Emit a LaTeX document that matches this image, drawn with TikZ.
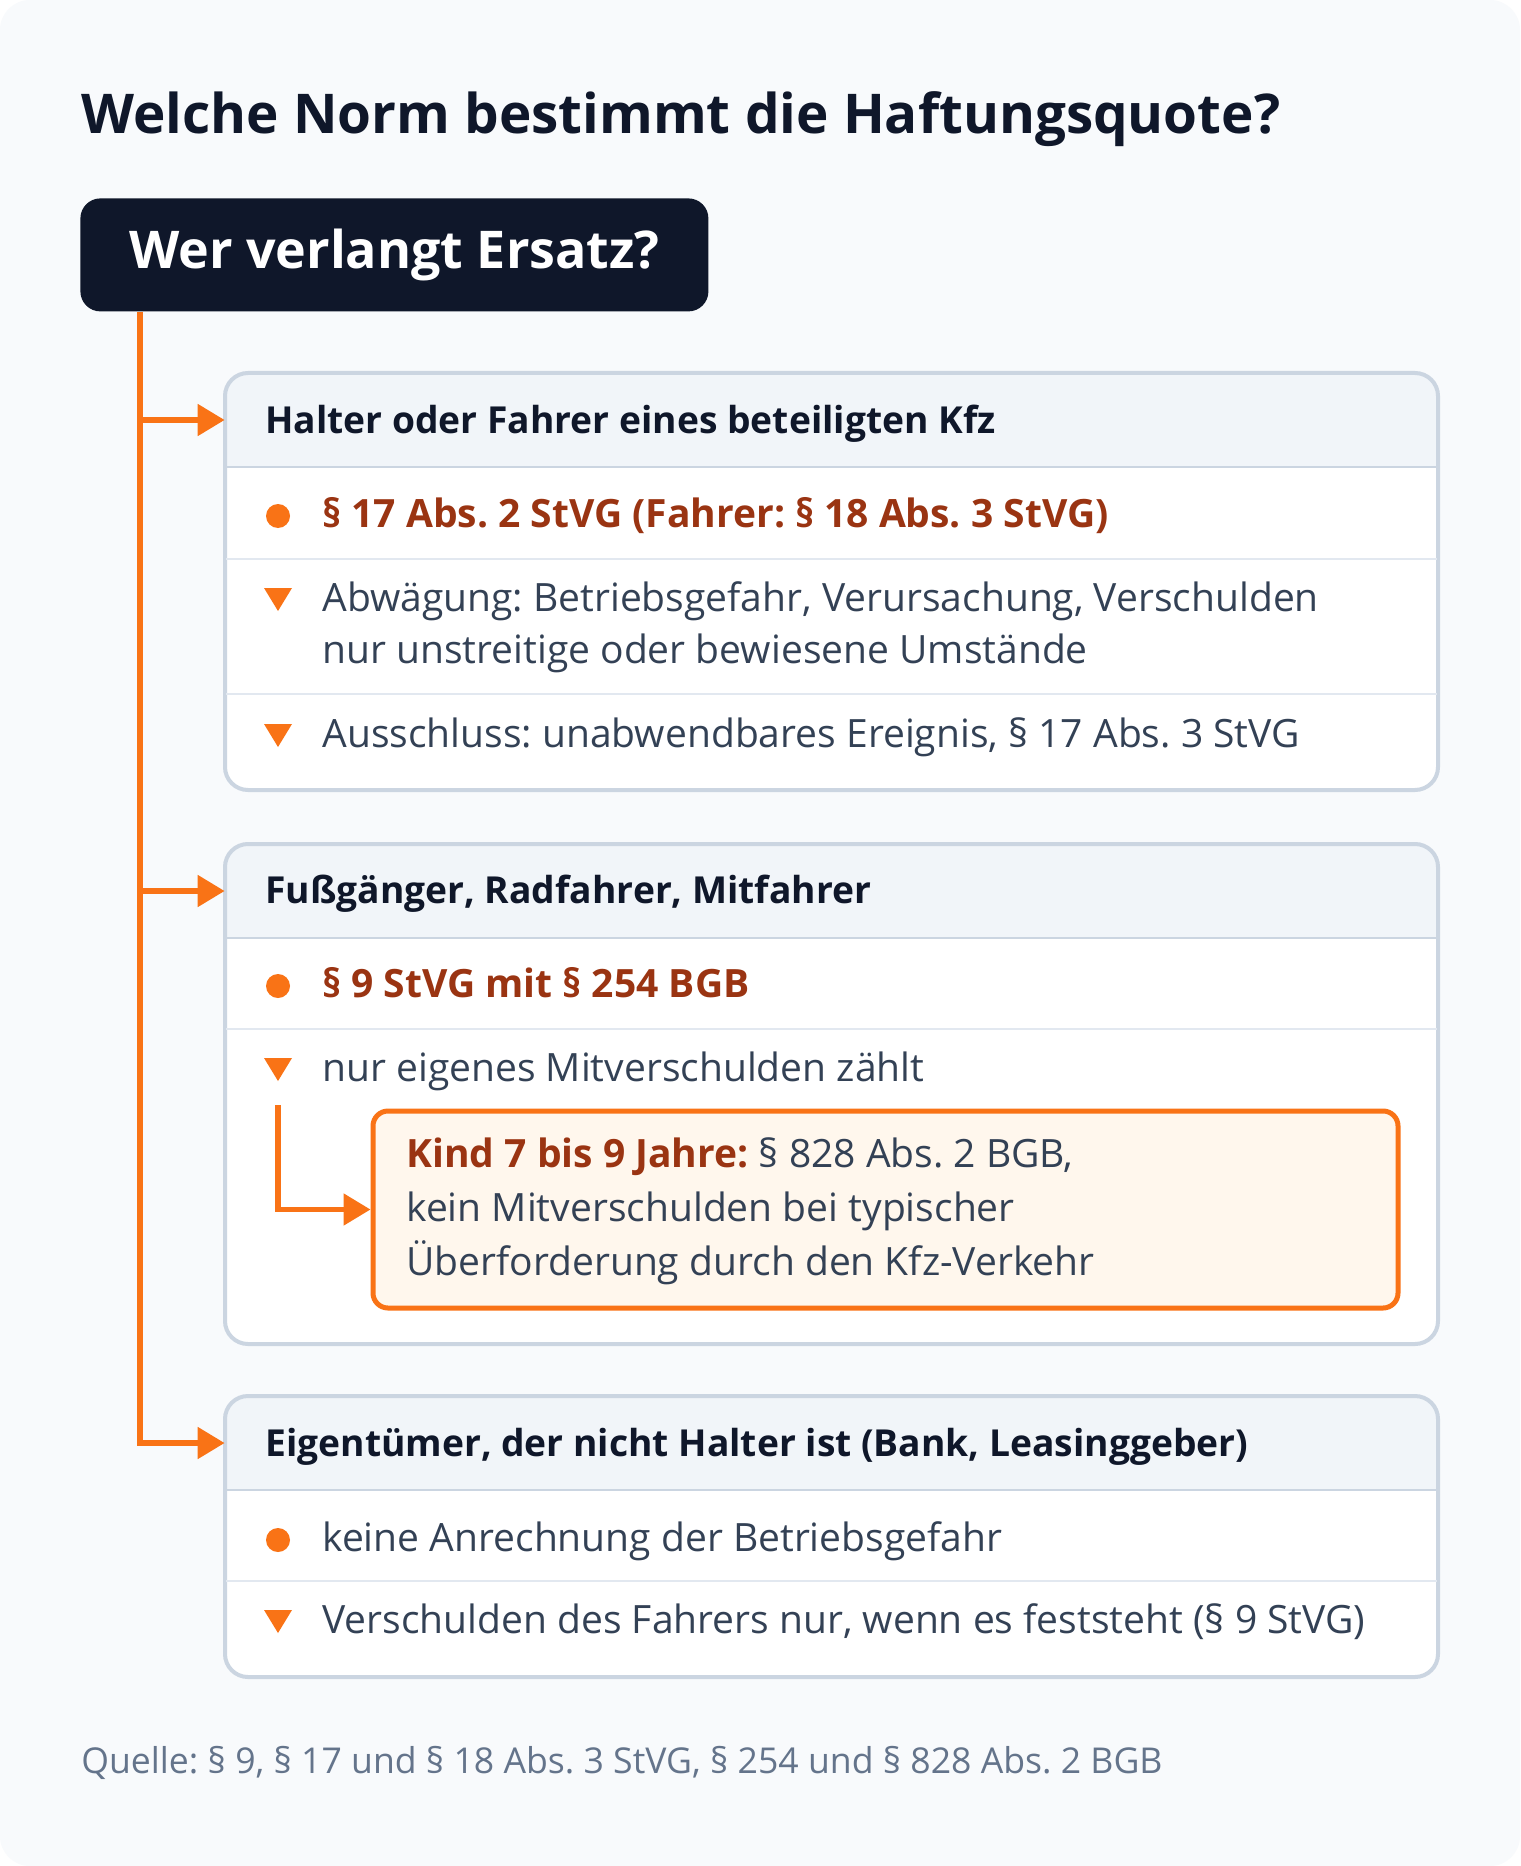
\documentclass[tikz,border=0pt]{standalone}
\usepackage{fontspec}
\IfFontExistsTF{Noto Sans Bold}
    {\setmainfont{Noto Sans}[BoldFont={Noto Sans Bold}]}
    {\setmainfont{Open Sans}}
\frenchspacing
\usetikzlibrary{arrows.meta,fit}

\definecolor{navy}{HTML}{0F172A}
\definecolor{slate}{HTML}{334155}
\definecolor{muted}{HTML}{64748B}
\definecolor{accent}{HTML}{F97316}
\definecolor{rust}{HTML}{9A3412}
\definecolor{paper}{HTML}{F8FAFC}
\definecolor{headfill}{HTML}{F1F5F9}
\definecolor{cardline}{HTML}{CBD5E1}
\definecolor{rowline}{HTML}{E2E8F0}
\definecolor{kidfill}{HTML}{FFF7ED}

\begin{document}
\begin{tikzpicture}[x=0.5pt,y=-0.5pt,>={Triangle[length=13.5pt,width=15.5pt]},
    title/.style={anchor=base west,inner sep=0,text=navy,font=\fontsize{27.4}{32}\selectfont\bfseries},
    askbox/.style={fill=navy,rounded corners=10pt,text=white,inner sep=0,minimum width=314pt,
        minimum height=56.5pt,anchor=north west,font=\fontsize{26}{31}\selectfont\bfseries},
    card/.style={draw=cardline,line width=2pt,rounded corners=11.5pt,inner sep=0},
    headband/.style={inner sep=0},
    head/.style={anchor=base west,inner sep=0,text=navy,font=\fontsize{18.6}{26}\selectfont\bfseries},
    body/.style={anchor=base west,inner sep=0,text=slate,align=left,font=\fontsize{19.5}{26}\selectfont},
    norm/.style={body,text=rust,font=\fontsize{19.5}{26}\selectfont\bfseries},
    kidbox/.style={draw=accent,fill=kidfill,line width=2.5pt,rounded corners=7.5pt,inner sep=0},
    flow/.style={draw=accent,line width=2.6pt},
    note/.style={anchor=base west,inner sep=0,text=muted,font=\fontsize{17.8}{22}\selectfont}]

    \useasboundingbox (0,0) rectangle (1520,1866);
    \fill[white] (0,0) rectangle (1520,1866);
    \fill[paper,rounded corners=15pt] (0,0) rectangle (1520,1866);

    \node[title] (ttl) at (81,134) {Welche Norm bestimmt die Haftungsquote?};
    \node[askbox] (ask) at (80,198) {Wer verlangt Ersatz?};

    % cards: header band, rows, border
    \foreach \n/\ytop/\ybot in {1/373/790, 2/844/1344, 3/1396/1677}{
        \begin{scope}
            \clip[rounded corners=11.5pt] (225,\ytop) rectangle (1438,\ybot);
            \fill[white] (225,\ytop) rectangle (1438,\ybot);
            \fill[headfill] (225,\ytop) rectangle (1438,\ytop+94);
        \end{scope}
        \draw[cardline,line width=1.3pt] (225,\ytop+94) -- (1438,\ytop+94);
        \node[headband,fit={(225,\ytop) (1438,\ytop+94)}] (hd\n) {};
        \node[card,fit={(225,\ytop) (1438,\ybot)}] (card\n) {};
    }
    \foreach \y in {559,694,1029,1581}{
        \draw[rowline,line width=1.3pt] (226,\y) -- (1437,\y);
    }

    % bullets
    \foreach \y in {516,986,1540}{
        \fill[accent] (278,\y) circle (6pt);
    }
    \foreach \y in {588,724,1058,1610}{
        \fill[accent] (264,\y) -- (292,\y) -- (278,\y+23) -- cycle;
    }

    \node[head] (h1) at (265,434) {Halter oder Fahrer eines beteiligten Kfz};
    \node[norm] (r11) at (322,527) {§ 17 Abs. 2 StVG (Fahrer: § 18 Abs. 3 StVG)};
    \node[body] (r12) at (322,663) {Abwägung: Betriebsgefahr, Verursachung, Verschulden\\nur unstreitige oder bewiesene Umstände};
    \node[body] (r13) at (322,747) {Ausschluss: unabwendbares Ereignis, § 17 Abs. 3 StVG};

    \node[head] (h2) at (265,903) {Fußgänger, Radfahrer, Mitfahrer};
    \node[norm] (r21) at (322,997) {§ 9 StVG mit § 254 BGB};
    \node[body] (r22) at (322,1081) {nur eigenes Mitverschulden zählt};
    \node[kidbox,fit={(373,1111) (1398,1308)}] (kid) {};
    \node[body,font=\fontsize{19.5}{27}\selectfont] (kidtxt) at (406,1275) {{\color{rust}\bfseries Kind 7 bis 9 Jahre:} § 828 Abs. 2 BGB,\\kein Mitverschulden bei typischer\\Überforderung durch den Kfz-Verkehr};

    \node[head] (h3) at (265,1456) {Eigentümer, der nicht Halter ist (Bank, Leasinggeber)};
    \node[body] (r31) at (322,1551) {keine Anrechnung der Betriebsgefahr};
    \node[body] (r32) at (322,1633) {Verschulden des Fahrers nur, wenn es feststeht (§ 9 StVG)};

    % connectors
    \coordinate (spine) at ([xshift=30pt]ask.south west);
    \draw[flow,->] (spine) |- (hd3.west);
    \foreach \n in {1,2}{
        \draw[flow,->] (spine |- hd\n.west) -- (hd\n.west);
    }
    \coordinate (sub) at (278,1105);
    \draw[flow,->] (sub) |- (kid.west);

    \node[note] (src) at (81,1773) {Quelle: § 9, § 17 und § 18 Abs. 3 StVG, § 254 und § 828 Abs. 2 BGB};
\end{tikzpicture}
\end{document}
